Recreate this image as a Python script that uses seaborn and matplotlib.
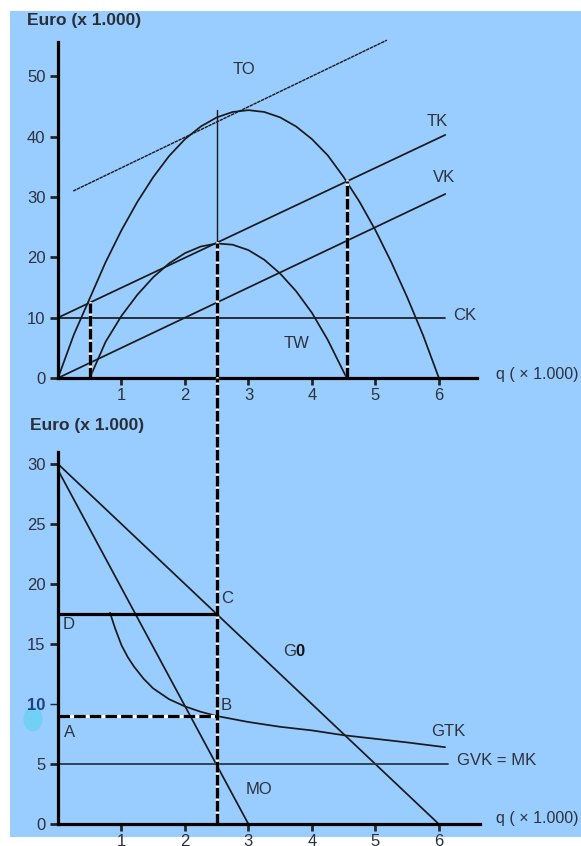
import matplotlib
matplotlib.use("Agg")
import matplotlib.pyplot as plt
import seaborn as sns
from matplotlib.patches import Rectangle, Ellipse

sns.set_style("ticks")
plt.rcParams["font.family"] = ["Liberation Sans", "DejaVu Sans"]

# ---------------- data ----------------
# top panel
q_to = [0, 0.25, 0.5, 0.75, 1, 1.25, 1.5, 1.75, 2, 2.25, 2.5, 2.75, 3,
        3.25, 3.5, 3.75, 4, 4.25, 4.5, 4.75, 5, 5.25, 5.5, 5.75, 6]
to_vals = [0, 7.2, 13.2, 19.2, 24.5, 29.2, 33.3, 36.8, 39.6, 41.7, 43.2, 44.1, 44.4,
           44.1, 43.2, 41.7, 39.6, 36.9, 33.3, 29.2, 24.5, 19.2, 13.4, 7.1, 0]
q_tw = [0.5, 0.75, 1, 1.25, 1.5, 1.75, 2, 2.25, 2.5, 2.75, 3, 3.25, 3.5, 3.75,
        4, 4.25, 4.5, 4.55]
tw_vals = [0, 6.0, 10.3, 13.8, 16.7, 19.0, 20.7, 21.8, 22.3, 22.1, 21.2, 19.6, 17.3, 14.4,
           10.8, 6.3, 1.0, 0]
q_tk = [0, 6.1]
tk_vals = [10, 40.3]
q_vk = [0, 6.1]
vk_vals = [0, 30.5]
q_ck = [0, 6.1]
ck_vals = [10, 10]
q_tan = [0.24, 5.18]
tan_vals = [31.0, 56.0]

# bottom panel
q_go = [0, 6]
go_vals = [30, 0]
q_mo = [0, 3]
mo_vals = [29.5, 0]
q_gtk = [0.82, 0.9, 1.0, 1.1, 1.2, 1.35, 1.5, 1.75, 2.0, 2.25, 2.5, 3.0, 3.5,
         4.0, 4.5, 5.0, 5.5, 6.1]
gtk_vals = [17.6, 16.3, 14.9, 13.9, 13.1, 12.1, 11.3, 10.4, 9.8, 9.35, 9.0, 8.5, 8.1,
            7.8, 7.4, 7.1, 6.8, 6.4]
q_gvk = [0, 6.15]
gvk_vals = [5, 5]

q_opt = 2.5          # optimal quantity
price_opt = 17.5     # point C / D
gtk_opt = 9.0        # point B / A
to_opt_top = 44.4
tw_opt = 22.3
q_low, tk_low = 0.5, 12.5
q_high, tk_high = 4.55, 32.6

top_xticks = [1, 2, 3, 4, 5, 6]
top_yticks = [0, 10, 20, 30, 40, 50]
bot_xticks = [1, 2, 3, 4, 5, 6]
bot_yticks = [0, 5, 10, 15, 20, 25, 30]

# ---------------- figure ----------------
W, H = 581, 846
fig = plt.figure(figsize=(W / 100, H / 100), dpi=100, facecolor="white")
fig.add_artist(Rectangle((10 / W, 1 - 837 / H), 1, (837 - 11) / H,
                         transform=fig.transFigure, facecolor="#99CCFF",
                         edgecolor="none", zorder=-10))
fig.add_artist(Ellipse((33 / W, 1 - 719 / H), 19 / W, 25 / H,
                       transform=fig.transFigure, facecolor="#72D0F6",
                       edgecolor="none", zorder=-5))

TOP_Y0, TOP_Y1 = 378, 42
BOT_Y0, BOT_Y1 = 824, 452
ax1 = fig.add_axes([58 / W, 1 - TOP_Y0 / H, 419 / W, (TOP_Y0 - TOP_Y1) / H])
ax2 = fig.add_axes([58 / W, 1 - BOT_Y0 / H, 422 / W, (BOT_Y0 - BOT_Y1) / H])

LC = "#1a1a1a"
TC = "#2d333b"
FS = 12

for ax in (ax1, ax2):
    ax.set_facecolor("none")
    for s in ("top", "right"):
        ax.spines[s].set_visible(False)
    for s in ("left", "bottom"):
        ax.spines[s].set_linewidth(2.3)
        ax.spines[s].set_color("black")
        ax.spines[s].set_zorder(5)
    ax.tick_params(axis="y", length=6, width=2, pad=3, labelsize=FS, labelcolor=TC)
    ax.tick_params(axis="x", length=5, width=2, pad=2, labelsize=FS, labelcolor=TC)

ax1.set_xlim(0, 6.6)
ax1.set_ylim(0, 55.7)
ax1.set_xticks(top_xticks)
ax1.set_yticks(top_yticks)
ax2.set_xlim(0, 6.65)
ax2.set_ylim(0, 31)
ax2.set_xticks(bot_xticks)
ax2.set_yticks(bot_yticks)

# ---------- top panel curves ----------
lw = 1.25
sns.lineplot(x=q_to, y=to_vals, ax=ax1, color=LC, linewidth=lw, clip_on=False)
sns.lineplot(x=q_tw, y=tw_vals, ax=ax1, color=LC, linewidth=lw, clip_on=False)
sns.lineplot(x=q_tk, y=tk_vals, ax=ax1, color=LC, linewidth=lw, clip_on=False)
sns.lineplot(x=q_vk, y=vk_vals, ax=ax1, color=LC, linewidth=lw, clip_on=False)
sns.lineplot(x=q_ck, y=ck_vals, ax=ax1, color=LC, linewidth=lw, clip_on=False)
sns.lineplot(x=q_tan, y=tan_vals, ax=ax1, color=LC, linewidth=1.0,
             linestyle=(0, (2.5, 0.5)), clip_on=False)

# thin vertical at optimum
ax1.plot([q_opt, q_opt], [tw_opt, to_opt_top], color=LC, lw=1.0, clip_on=False)


def dashed_v(ax, x, y0, y1, dash=(3.2, 0.7)):
    ax.plot([x, x], [y0, y1], color="white", lw=2.4, clip_on=False, zorder=3)
    ax.plot([x, x], [y0, y1], color="black", lw=2.4, dashes=dash,
            clip_on=False, zorder=3.1)


dashed_v(ax1, q_low, 0, tk_low)
dashed_v(ax1, q_high, 0, tk_high)

# cross-panel dashed vertical at optimum: top part in ax1, remainder in ax2
dashed_v(ax1, q_opt, 0, tw_opt)
gap_in_bottom_units = (BOT_Y1 - TOP_Y0) * 31 / (BOT_Y0 - BOT_Y1)
dashed_v(ax2, q_opt, 0, 31 + gap_in_bottom_units)

# ---------- bottom panel curves ----------
sns.lineplot(x=q_go, y=go_vals, ax=ax2, color=LC, linewidth=lw, clip_on=False)
sns.lineplot(x=q_mo, y=mo_vals, ax=ax2, color=LC, linewidth=lw, clip_on=False)
sns.lineplot(x=q_gtk, y=gtk_vals, ax=ax2, color=LC, linewidth=lw, clip_on=False)
sns.lineplot(x=q_gvk, y=gvk_vals, ax=ax2, color="#26323d", linewidth=lw, clip_on=False)

ax2.plot([0, q_opt], [price_opt, price_opt], color="black", lw=2.3, clip_on=False, zorder=3)
ax2.plot([0, q_opt], [gtk_opt, gtk_opt], color="white", lw=2.3, clip_on=False, zorder=3)
ax2.plot([0, q_opt], [gtk_opt, gtk_opt], color="black", lw=2.3, dashes=(3.6, 1.3),
         clip_on=False, zorder=3.1)

# special "10" tick label in bottom panel
for t, lab in zip(ax2.yaxis.get_major_ticks(), bot_yticks):
    if lab == 10:
        t.label1.set_color("#1d3f86")
        t.label1.set_fontweight("bold")
        t.tick1line.set_markeredgewidth(1.0)
        t.tick1line.set_color("#1d3f86")

# ---------- labels ----------
txt = dict(color=TC, fontsize=FS, va="center", ha="left")
ax1.text(2.75, 51.1, "TO", **txt)
ax1.text(5.8, 42.6, "TK", **txt)
ax1.text(5.9, 33.2, "VK", **txt)
ax1.text(6.22, 10.4, "CK", **txt)
ax1.text(3.55, 5.8, "TW", **txt)
ax1.text(6.9, 0.5, "q ( \u00d7 1.000)", clip_on=False, color=TC, fontsize=11.5,
         va="center", ha="left")

ax2.text(2.57, 18.8, "C", **txt)
ax2.text(0.07, 16.6, "D", **txt)
ax2.text(3.55, 14.4, "G", **txt)
ax2.annotate("0", xy=(3.55, 14.4), xytext=(8.5, 0), textcoords="offset points",
             color="#111111", fontsize=FS, fontweight="bold", va="center", ha="left")
ax2.text(2.57, 9.9, "B", **txt)
ax2.text(0.1, 7.6, "A", **txt)
ax2.text(5.88, 7.75, "GTK", **txt)
ax2.text(6.28, 5.3, "GVK = MK", **txt)
ax2.text(2.96, 2.9, "MO", **txt)
ax2.text(6.9, 0.5, "q ( \u00d7 1.000)", clip_on=False, color=TC, fontsize=11.5,
         va="center", ha="left")

fig.text(27 / W, 1 - 20 / H, "Euro (x 1.000)", fontsize=12.5, fontweight="bold",
         color="#2a2f36", va="center", ha="left")
fig.text(30 / W, 1 - 425 / H, "Euro (x 1.000)", fontsize=12.5, fontweight="bold",
         color="#2a2f36", va="center", ha="left")

fig.savefig("out.png", dpi=100, facecolor="white")
